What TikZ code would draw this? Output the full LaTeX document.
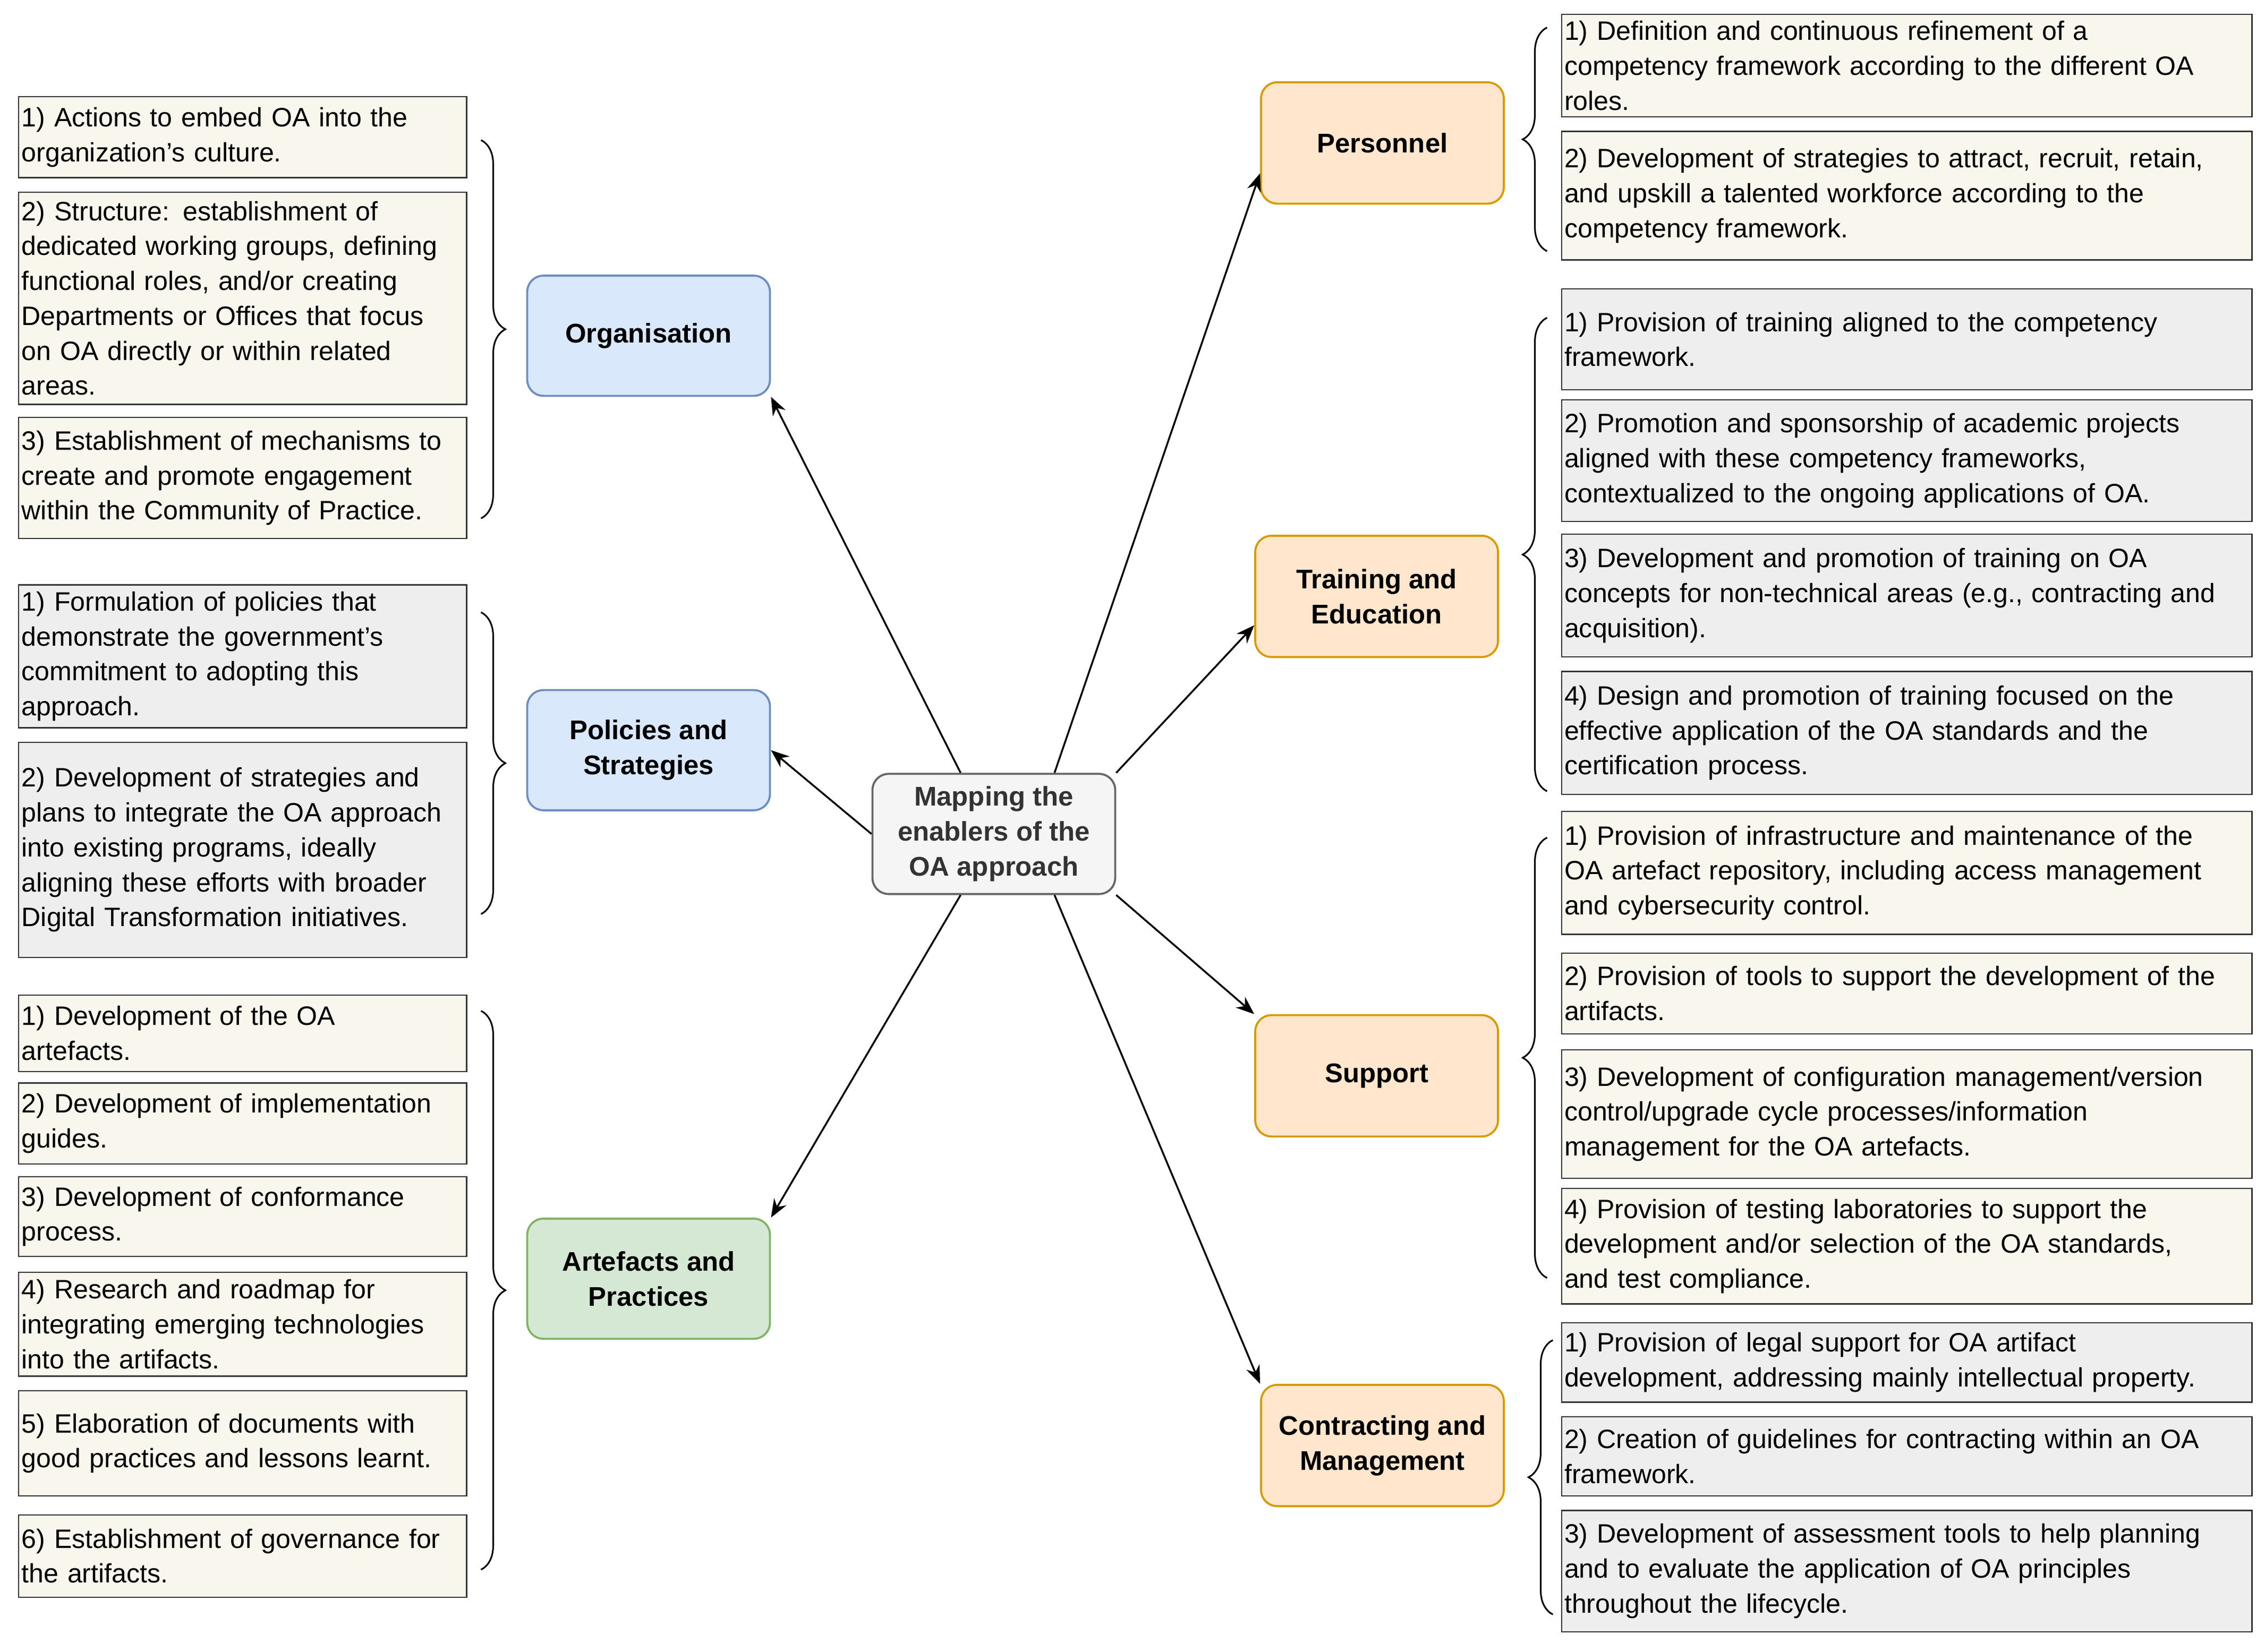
\documentclass[tikz,border=0pt]{standalone}
\usepackage{fontspec}
\setmainfont{Liberation Sans}
\usetikzlibrary{decorations.pathreplacing,arrows.meta}
\definecolor{beige}{HTML}{F9F7ED}
\definecolor{grayb}{HTML}{EEEEEE}
\definecolor{blueF}{HTML}{DAE8FC}\definecolor{blueD}{HTML}{6C8EBF}
\definecolor{greenF}{HTML}{D5E8D4}\definecolor{greenD}{HTML}{82B366}
\definecolor{orF}{HTML}{FFE6CC}\definecolor{orD}{HTML}{D79B00}
\newcommand{\bx}[7]{\node[box,fill=#6,minimum width={(#4-#2)*0.025cm},minimum height={(#5-#3)*0.025cm},text width={(#4-#2)*0.025cm-0.1cm}] (#1) at ({(#2+#4)/2},{(#3+#5)/2}) {#7};}
\tikzset{
 box/.style={draw=black!80,line width=0.6pt,inner xsep=0.05cm,inner ysep=0pt,align=left,font=\fontsize{13.1}{17.2}\selectfont,execute at begin node={\hyphenpenalty=10000 \exhyphenpenalty=10000 }},
 catn/.style={rounded corners=8pt,line width=1pt,align=center,font=\fontsize{13.3}{17.2}\selectfont\bfseries},
 arr/.style={-{Stealth[length=9pt,width=7pt]},line width=0.9pt},
 br/.style={decorate,decoration={brace,amplitude=12pt},line width=0.8pt}
}
\begin{document}
\begin{tikzpicture}[x=0.025cm,y=-0.025cm]
\useasboundingbox (0,0) rectangle (1568,1144);
% left boxes
\bx{o1}{13}{67}{323}{123}{beige}{1) Actions to embed OA into the\\organization’s culture.}
\bx{o2}{13}{133}{323}{280}{beige}{2) Structure: establishment of\\dedicated working groups, defining\\functional roles, and/or creating\\Departments or Offices that focus\\on OA directly or within related\\areas.}
\bx{o3}{13}{289}{323}{373}{beige}{3) Establishment of mechanisms to\\create and promote engagement\\within the Community of Practice.}
\bx{p1}{13}{405}{323}{504}{grayb}{1) Formulation of policies that\\demonstrate the government’s\\commitment to adopting this\\approach.}
\bx{p2}{13}{514}{323}{663}{grayb}{2) Development of strategies and\\plans to integrate the OA approach\\into existing programs, ideally\\aligning these efforts with broader\\Digital Transformation initiatives.}
\bx{a1}{13}{689}{323}{742}{beige}{1) Development of the OA\\artefacts.}
\bx{a2}{13}{750}{323}{806}{beige}{2) Development of implementation\\guides.}
\bx{a3}{13}{815}{323}{870}{beige}{3) Development of conformance\\process.}
\bx{a4}{13}{881}{323}{953}{beige}{4) Research and roadmap for\\integrating emerging technologies\\into the artifacts.}
\bx{a5}{13}{963}{323}{1036}{beige}{5) Elaboration of documents with\\good practices and lessons learnt.}
\bx{a6}{13}{1049}{323}{1106}{beige}{6) Establishment of governance for\\the artifacts.}
% right boxes
\bx{pe1}{1081}{10}{1559}{81}{beige}{1) Definition and continuous refinement of a\\competency framework according to the different OA\\roles.}
\bx{pe2}{1081}{91}{1559}{180}{beige}{2) Development of strategies to attract, recruit, retain,\\and upskill a talented workforce according to the\\competency framework.}
\bx{t1}{1081}{200}{1559}{270}{grayb}{1) Provision of training aligned to the competency\\framework.}
\bx{t2}{1081}{277}{1559}{361}{grayb}{2) Promotion and sponsorship of academic projects\\aligned with these competency frameworks,\\contextualized to the ongoing applications of OA.}
\bx{t3}{1081}{370}{1559}{455}{grayb}{3) Development and promotion of training on OA\\concepts for non-technical areas (e.g., contracting and\\acquisition).}
\bx{t4}{1081}{465}{1559}{550}{grayb}{4) Design and promotion of training focused on the\\effective application of the OA standards and the\\certification process.}
\bx{s1}{1081}{562}{1559}{647}{beige}{1) Provision of infrastructure and maintenance of the\\OA artefact repository, including access management\\and cybersecurity control.}
\bx{s2}{1081}{660}{1559}{716}{beige}{2) Provision of tools to support the development of the\\artifacts.}
\bx{s3}{1081}{727}{1559}{816}{beige}{3) Development of configuration management/version\\control/upgrade cycle processes/information\\management for the OA artefacts.}
\bx{s4}{1081}{823}{1559}{903}{beige}{4) Provision of testing laboratories to support the\\development and/or selection of the OA standards,\\and test compliance.}
\bx{c1}{1081}{916}{1559}{971}{grayb}{1) Provision of legal support for OA artifact\\development, addressing mainly intellectual property.}
\bx{c2}{1081}{981}{1559}{1036}{grayb}{2) Creation of guidelines for contracting within an OA\\framework.}
\bx{c3}{1081}{1046}{1559}{1130}{grayb}{3) Development of assessment tools to help planning\\and to evaluate the application of OA principles\\throughout the lifecycle.}
% categories
\node[catn,fill=blueF,draw=blueD,minimum width=4.2cm,minimum height=2.08cm] (org) at (449,232.5) {Organisation};
\node[catn,fill=blueF,draw=blueD,minimum width=4.2cm,minimum height=2.08cm] (pol) at (449,519.5) {Policies and\\Strategies};
\node[catn,fill=greenF,draw=greenD,minimum width=4.2cm,minimum height=2.08cm] (art) at (449,885.5) {Artefacts and\\Practices};
\node[catn,fill=orF,draw=orD,minimum width=4.2cm,minimum height=2.1cm] (per) at (957,99) {Personnel};
\node[catn,fill=orF,draw=orD,minimum width=4.2cm,minimum height=2.1cm] (tra) at (953,413) {Training and\\Education};
\node[catn,fill=orF,draw=orD,minimum width=4.2cm,minimum height=2.1cm] (sup) at (953,745) {Support};
\node[catn,fill=orF,draw=orD,minimum width=4.2cm,minimum height=2.1cm] (con) at (957,1001) {Contracting and\\Management};
\node[catn,fill=black!4,draw=black!60,text=black!80,minimum width=4.2cm,minimum height=2.08cm] (cen) at (688,577.5) {Mapping the\\enablers of the\\OA approach};
% arrows
\draw[arr] ([xshift=-0.575cm]cen.north) -- (org.south east);
\draw[arr] (cen.west) -- (pol.east);
\draw[arr] ([xshift=-0.575cm]cen.south) -- (art.north east);
\draw[arr] ([xshift=1.05cm]cen.north) -- (per.west |- 0,120);
\draw[arr] (cen.north east) -- (tra.west |- 0,433);
\draw[arr] (cen.south east) -- (sup.north west);
\draw[arr] ([xshift=1.05cm]cen.south) -- (con.north west);
% braces
\coordinate (bo1) at (333,97); \coordinate (bo2) at (333,359);
\draw[br] (bo1) -- (bo2);
\coordinate (bp1) at (333,424); \coordinate (bp2) at (333,633);
\draw[br] (bp1) -- (bp2);
\coordinate (ba1) at (333,700); \coordinate (ba2) at (333,1087);
\draw[br] (ba1) -- (ba2);
\coordinate (bq1) at (1071,174); \coordinate (bq2) at (1071,19);
\draw[br] (bq1) -- (bq2);
\coordinate (bt1) at (1071,548); \coordinate (bt2) at (1071,220);
\draw[br] (bt1) -- (bt2);
\coordinate (bs1) at (1071,885); \coordinate (bs2) at (1071,580);
\draw[br] (bs1) -- (bs2);
\coordinate (bc1) at (1075,1118); \coordinate (bc2) at (1075,928);
\draw[br] (bc1) -- (bc2);
\end{tikzpicture}
\end{document}
